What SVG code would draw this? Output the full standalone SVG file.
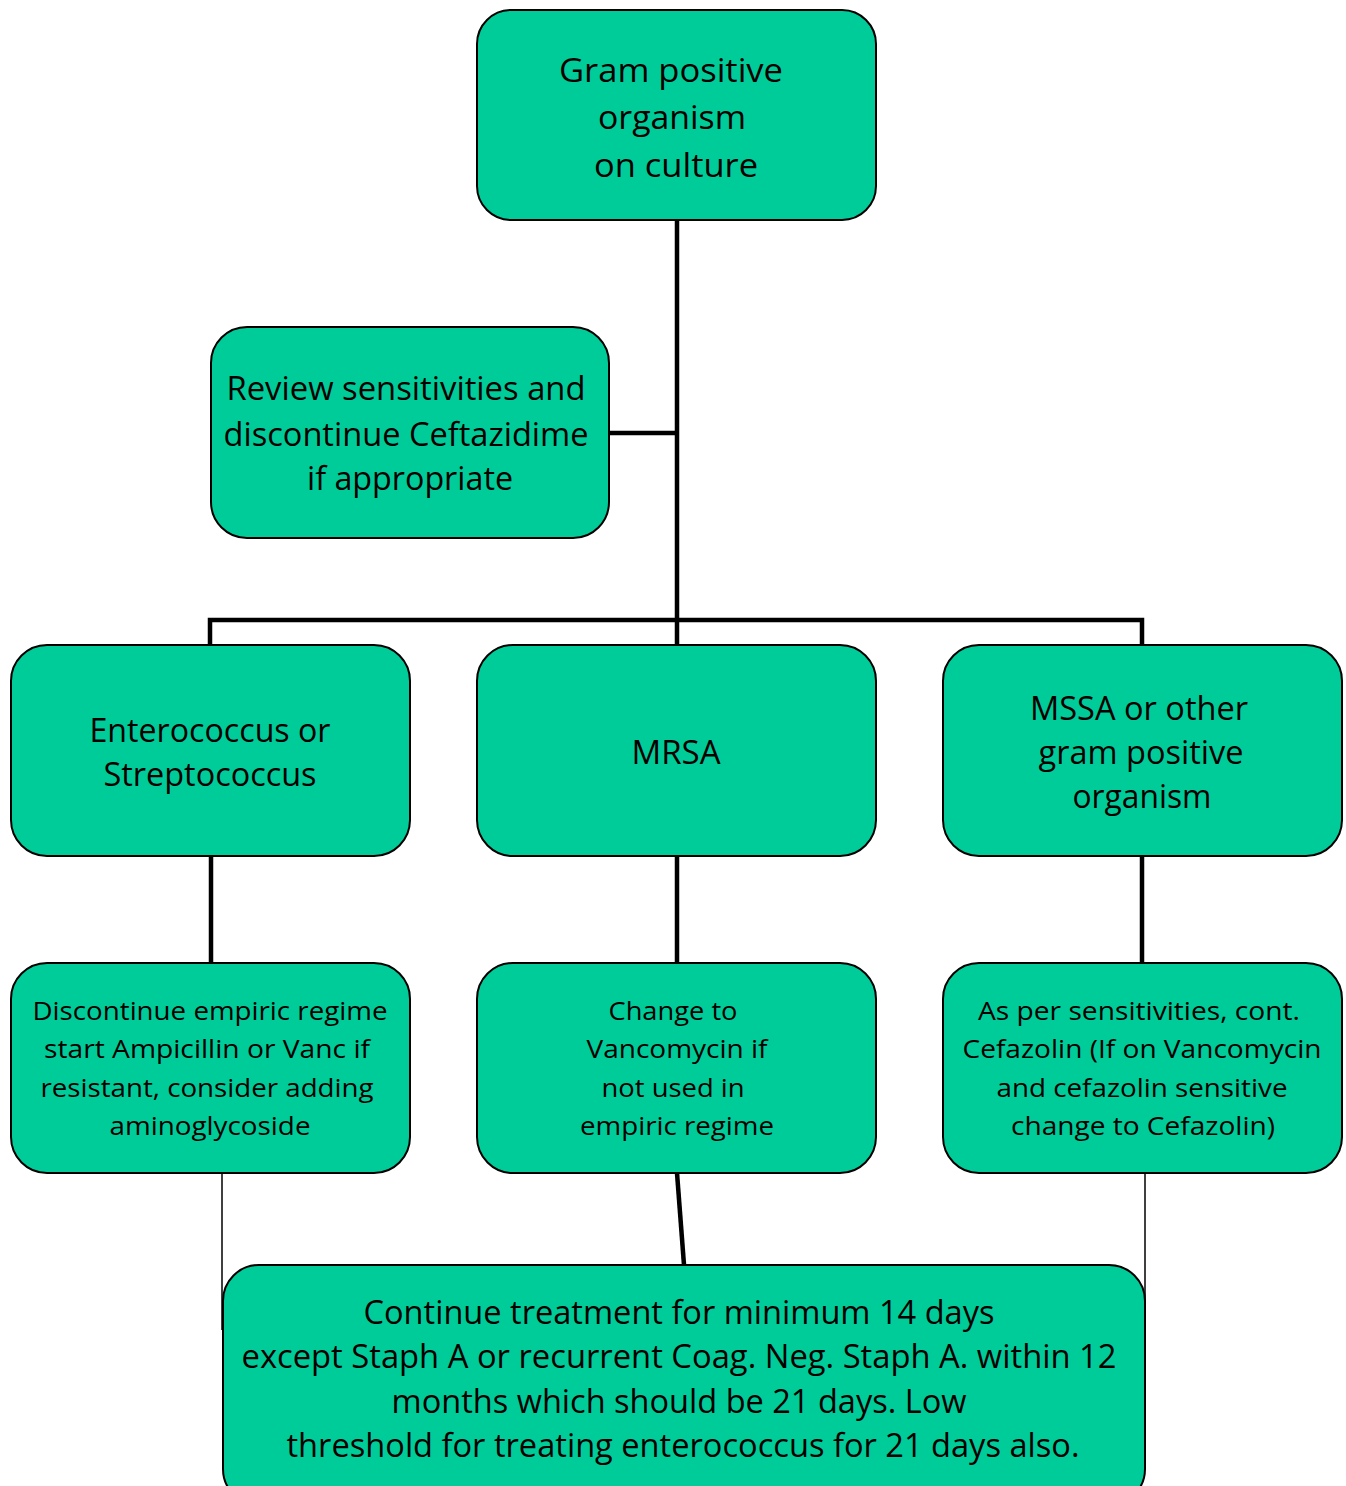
<svg xmlns="http://www.w3.org/2000/svg" width="1346" height="1486" viewBox="0 0 1346 1486">
<style>
.box{fill:#00CC99;stroke:#000;stroke-width:2}
.t{font-family:"Open Sans","Noto Sans","Liberation Sans",sans-serif;fill:#000;text-anchor:middle}
.lg{font-size:32px}
.sm{font-size:26px}
.c{stroke:#000;stroke-width:4.5;fill:none}
.thin{stroke:#000;stroke-width:1.5;fill:none}
</style>
<rect width="1346" height="1486" fill="#fff"/>
<g id="connectors">
<path class="c" d="M677,220 V645"/>
<path class="c" d="M609,433 H677"/>
<path class="c" d="M210,645 V620 H1142 V645"/>
<path class="c" d="M211,856 V963"/>
<path class="c" d="M677,856 V963"/>
<path class="c" d="M1142,856 V963"/>
<path class="c" d="M677,1173 L684,1265"/>
<path class="thin" d="M222,1173 V1330"/>
<path class="thin" d="M1145,1173 V1330"/>
</g>
<g id="n-top">
<rect class="box" x="477" y="10" width="399" height="210" rx="34"/>
<text class="t lg" x="671" y="82" textLength="224" lengthAdjust="spacingAndGlyphs">Gram positive</text>
<text class="t lg" x="672" y="129" textLength="148" lengthAdjust="spacingAndGlyphs">organism</text>
<text class="t lg" x="676" y="177" textLength="164" lengthAdjust="spacingAndGlyphs">on culture</text>
</g>
<g id="n-review">
<rect class="box" x="211" y="327" width="398" height="211" rx="36"/>
<text class="t lg" x="406" y="400" textLength="359" lengthAdjust="spacingAndGlyphs">Review sensitivities and</text>
<text class="t lg" x="406" y="446" textLength="365" lengthAdjust="spacingAndGlyphs">discontinue Ceftazidime</text>
<text class="t lg" x="410" y="490" textLength="206" lengthAdjust="spacingAndGlyphs">if appropriate</text>
</g>
<g id="n-entero">
<rect class="box" x="11" y="645" width="399" height="211" rx="36"/>
<text class="t lg" x="210" y="742" textLength="241" lengthAdjust="spacingAndGlyphs">Enterococcus or</text>
<text class="t lg" x="210" y="786" textLength="213" lengthAdjust="spacingAndGlyphs">Streptococcus</text>
</g>
<g id="n-mrsa">
<rect class="box" x="477" y="645" width="399" height="211" rx="36"/>
<text class="t lg" x="676" y="764" textLength="89" lengthAdjust="spacingAndGlyphs">MRSA</text>
</g>
<g id="n-mssa">
<rect class="box" x="943" y="645" width="399" height="211" rx="36"/>
<text class="t lg" x="1139" y="720" textLength="218" lengthAdjust="spacingAndGlyphs">MSSA or other</text>
<text class="t lg" x="1141" y="764" textLength="205" lengthAdjust="spacingAndGlyphs">gram positive</text>
<text class="t lg" x="1142" y="808" textLength="139" lengthAdjust="spacingAndGlyphs">organism</text>
</g>
<g id="n-entero-rx">
<rect class="box" x="11" y="963" width="399" height="210" rx="36"/>
<text class="t sm" x="210" y="1020" textLength="355" lengthAdjust="spacingAndGlyphs">Discontinue empiric regime</text>
<text class="t sm" x="207" y="1058" textLength="326" lengthAdjust="spacingAndGlyphs">start Ampicillin or Vanc if</text>
<text class="t sm" x="207" y="1097" textLength="333" lengthAdjust="spacingAndGlyphs">resistant, consider adding</text>
<text class="t sm" x="210" y="1135" textLength="201" lengthAdjust="spacingAndGlyphs">aminoglycoside</text>
</g>
<g id="n-mrsa-rx">
<rect class="box" x="477" y="963" width="399" height="210" rx="36"/>
<text class="t sm" x="673" y="1020" textLength="129" lengthAdjust="spacingAndGlyphs">Change to</text>
<text class="t sm" x="677" y="1058" textLength="181" lengthAdjust="spacingAndGlyphs">Vancomycin if</text>
<text class="t sm" x="673" y="1097" textLength="143" lengthAdjust="spacingAndGlyphs">not used in</text>
<text class="t sm" x="677" y="1135" textLength="194" lengthAdjust="spacingAndGlyphs">empiric regime</text>
</g>
<g id="n-mssa-rx">
<rect class="box" x="943" y="963" width="399" height="210" rx="36"/>
<text class="t sm" x="1139" y="1020" textLength="322" lengthAdjust="spacingAndGlyphs">As per sensitivities, cont.</text>
<text class="t sm" x="1142" y="1058" textLength="359" lengthAdjust="spacingAndGlyphs">Cefazolin (If on Vancomycin</text>
<text class="t sm" x="1142" y="1097" textLength="291" lengthAdjust="spacingAndGlyphs">and cefazolin sensitive</text>
<text class="t sm" x="1143" y="1135" textLength="264" lengthAdjust="spacingAndGlyphs">change to Cefazolin)</text>
</g>
<g id="n-continue">
<rect class="box" x="223" y="1265" width="922" height="240" rx="36"/>
<text class="t lg" x="679" y="1324" textLength="631" lengthAdjust="spacingAndGlyphs">Continue treatment for minimum 14 days</text>
<text class="t lg" x="679" y="1368" textLength="875" lengthAdjust="spacingAndGlyphs">except Staph A or recurrent Coag. Neg. Staph A. within 12</text>
<text class="t lg" x="679" y="1413" textLength="575" lengthAdjust="spacingAndGlyphs">months which should be 21 days. Low</text>
<text class="t lg" x="683" y="1457" textLength="793" lengthAdjust="spacingAndGlyphs">threshold for treating enterococcus for 21 days also.</text>
</g>
</svg>
